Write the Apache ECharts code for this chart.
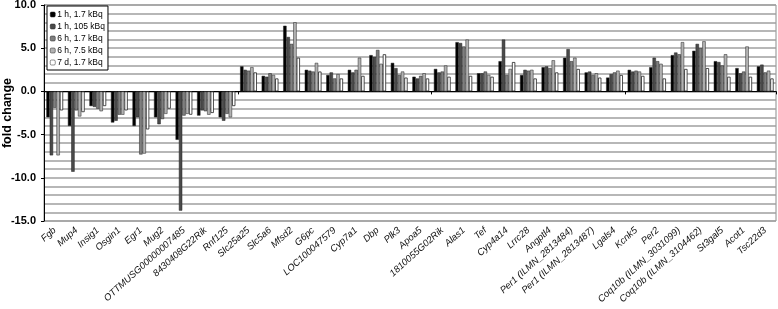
<!DOCTYPE html>
<html>
<head>
<meta charset="utf-8">
<script src="https://cdn.jsdelivr.net/npm/echarts@6/dist/echarts.min.js"></script>
<style>
  html, body { margin: 0; padding: 0; background: #fff; }
  #chart { width: 778px; height: 309px; }
</style>
</head>
<body>
<div id="chart"></div>
<script>
var genes = ['Fgb', 'Mup4', 'Insig1', 'Osgin1', 'Egr1', 'Mug2', 'OTTMUSG00000007485', '8430408G22Rik', 'Rnf125',
  'Slc25a25', 'Slc5a6', 'Mfsd2', 'G6pc', 'LOC100047579', 'Cyp7a1', 'Dbp', 'Plk3', 'Apoa5', '1810055G02Rik',
  'Alas1', 'Tef', 'Cyp4a14', 'Lrrc28', 'Angptl4', 'Per1 (ILMN_2813484)', 'Per1 (ILMN_2813487)', 'Lgals4',
  'Kcnk5', 'Per2', 'Coq10b (ILMN_3031099)', 'Coq10b (ILMN_3104462)', 'St3gal5', 'Acot1', 'Tsc22d3'];

var seriesNames = ['1 h, 1.7 kBq', '1 h, 105 kBq', '6 h, 1.7 kBq', '6 h, 7.5 kBq', '7 d, 1.7 kBq'];

var h1_17 = [-3.0, -4.0, -1.7, -3.6, -4.0, -3.0, -5.6, -2.8, -3.0,
  2.9, 1.8, 7.6, 2.5, 1.9, 2.5, 4.2, 3.3, 1.7, 2.6,
  5.7, 2.1, 3.5, 1.9, 2.8, 3.9, 2.2, 1.6,
  2.5, 2.8, 4.2, 4.7, 3.5, 2.7, 2.9];
var h1_105 = [-7.4, -9.3, -1.8, -3.4, -3.0, -3.8, -13.8, -2.2, -3.4,
  2.5, 1.7, 6.3, 2.4, 2.2, 2.2, 4.0, 2.7, 1.5, 2.2,
  5.6, 2.1, 6.0, 2.5, 2.9, 4.9, 2.3, 2.0,
  2.3, 3.9, 4.5, 5.5, 3.4, 2.1, 3.1];
var h6_17 = [-1.9, -2.2, -2.0, -2.7, -7.3, -3.2, -2.8, -2.3, -2.6,
  2.4, 2.1, 5.5, 2.3, 1.5, 2.5, 4.8, 1.9, 1.8, 2.3,
  5.2, 2.3, 1.9, 2.4, 2.7, 3.5, 1.9, 2.2,
  2.4, 3.5, 4.3, 5.0, 3.0, 2.3, 2.2];
var h6_75 = [-7.4, -2.9, -2.3, -2.7, -7.2, -2.6, -2.6, -2.7, -3.0,
  2.8, 1.9, 8.0, 3.3, 2.0, 3.9, 3.2, 2.3, 2.1, 3.0,
  6.0, 1.9, 2.6, 2.5, 3.6, 3.9, 2.1, 2.4,
  2.3, 3.2, 5.7, 5.8, 4.3, 5.2, 2.4];
var d7_17 = [-2.2, -2.4, -1.7, -2.2, -4.4, -2.0, -2.7, -2.5, -1.7,
  2.2, 1.5, 3.9, 2.3, 1.5, 1.8, 4.3, 1.6, 1.5, 1.7,
  1.8, 1.7, 3.4, 1.5, 2.2, 2.6, 1.6, 1.9,
  1.8, 1.5, 2.6, 2.7, 1.7, 1.7, 1.5];

var values = [h1_17, h1_105, h6_17, h6_75, d7_17];
var colors = ['#000000', '#4a4a4a', '#7f7f7f', '#b2b2b2', '#ffffff'];
var font = 'Liberation Sans, Arial, sans-serif';

var myChart = echarts.init(document.getElementById('chart'));

var series = values.map(function (v, i) {
  return {
    name: seriesNames[i],
    type: 'bar',
    xAxisIndex: 0,
    data: v,
    barGap: '0%',
    barCategoryGap: '22%',
    itemStyle: {
      color: colors[i],
      borderColor: '#222',
      borderWidth: i == 4 ? 0.8 : 0.5
    }
  };
});

myChart.setOption({
  animation: false,
  grid: {
    left: 44, right: 2, top: 5, bottom: 88,
    outerBoundsMode: 'none',
    containLabel: false,
    show: true, borderColor: '#8c8c8c', borderWidth: 1
  },
  legend: {
    orient: 'vertical',
    left: 47, top: 6,
    data: seriesNames,
    itemWidth: 5, itemHeight: 5, itemGap: 3,
    padding: [4, 3, 3, 3],
    backgroundColor: '#fff',
    borderColor: '#000', borderWidth: 1,
    textStyle: { fontFamily: font, fontSize: 8.5, color: '#000', padding: [0, 0, 0, -3] },
    itemStyle: { borderColor: '#222', borderWidth: 0.5 }
  },
  xAxis: [{
    type: 'category',
    data: genes,
    position: 'bottom',
    axisLine: { show: false, onZero: false },
    axisTick: { show: false },
    axisLabel: {
      interval: 0, rotate: 42, margin: 8,
      fontFamily: font, fontSize: 9.5, fontStyle: 'italic', color: '#111'
    }
  }, {
    type: 'category',
    data: genes,
    position: 'bottom',
    axisLine: { onZero: true, lineStyle: { color: '#000', width: 1 } },
    axisTick: { show: true, length: 3, lineStyle: { color: '#000' } },
    axisLabel: { show: false }
  }],
  yAxis: {
    type: 'value',
    min: -15, max: 10, interval: 5,
    name: 'fold change',
    nameLocation: 'middle',
    nameGap: 30,
    nameMoveOverlap: false,
    nameTextStyle: { fontFamily: font, fontSize: 12.5, fontWeight: 'bold', color: '#000' },
    axisLine: { show: true, lineStyle: { color: '#000', width: 1 } },
    axisTick: { show: true, length: 3, lineStyle: { color: '#000' } },
    axisLabel: {
      margin: 8,
      fontFamily: font, fontSize: 11, fontWeight: 'bold', color: '#000',
      formatter: function (v) { return v.toFixed(1); }
    },
    splitLine: { lineStyle: { color: '#a0a0a0', width: 1.5 } },
    minorTick: { show: false, splitNumber: 5 },
    minorSplitLine: { show: true, lineStyle: { color: '#a0a0a0', width: 1.5 } }
  },
  series: series
});
</script>
</body>
</html>
